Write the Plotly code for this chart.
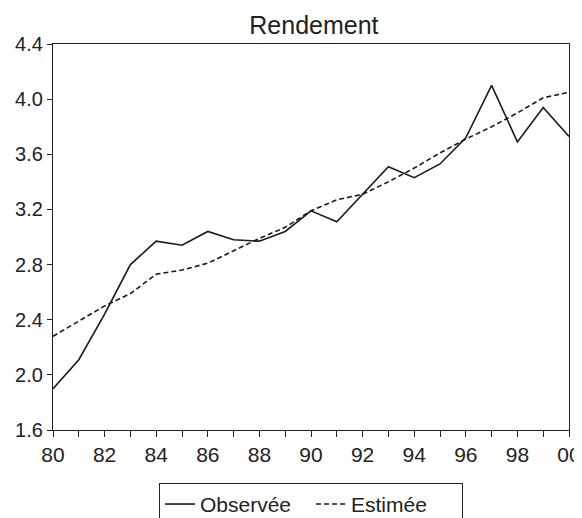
"""Rendement observé vs estimé, 1980-2000."""
import plotly.graph_objects as go

years = list(range(1980, 2001))
observee = [1.90, 2.11, 2.44, 2.80, 2.97, 2.94, 3.04, 2.98, 2.97, 3.04, 3.19, 3.11,
            3.31, 3.51, 3.43, 3.53, 3.72, 4.10, 3.69, 3.94, 3.73]
estimee = [2.28, 2.39, 2.50, 2.59, 2.73, 2.76, 2.81, 2.90, 2.99, 3.07, 3.19, 3.27,
           3.31, 3.40, 3.50, 3.61, 3.71, 3.80, 3.90, 4.01, 4.05]
x_tickvals = list(range(1980, 2001, 2))
x_ticktext = ["80", "82", "84", "86", "88", "90", "92", "94", "96", "98", "00"]
y_tickvals = [1.6, 2.0, 2.4, 2.8, 3.2, 3.6, 4.0, 4.4]

FONT = "Liberation Sans, Arial, sans-serif"

fig = go.Figure()
fig.add_trace(go.Scatter(x=years, y=observee, mode="lines", name="Observée",
                         line=dict(color="#1a1a1a", width=1.6)))
fig.add_trace(go.Scatter(x=years, y=estimee, mode="lines", name="Estimée",
                         line=dict(color="#1a1a1a", width=1.6, dash="5px,3px")))

# the page body adds an 8px margin, so the figure is a bit smaller than the window
fig.update_layout(
    width=574, height=510,
    margin=dict(l=45, r=13, t=36, b=88, autoexpand=False),
    paper_bgcolor="white", plot_bgcolor="white",
    font=dict(family=FONT, size=18, color="#222"),
    title=dict(text="Rendement", x=0.533, xanchor="center", y=0.967, yanchor="middle",
               font=dict(size=25)),
    showlegend=True,
    legend=dict(orientation="h", x=0.5, xanchor="center", y=-0.137, yanchor="top",
                bordercolor="#222", borderwidth=1, font=dict(size=21),
                itemwidth=30, entrywidth=106, tracegroupgap=0),
)
fig.update_xaxes(
    range=[1980, 2000], tickvals=x_tickvals, ticktext=x_ticktext,
    ticks="outside", ticklen=6, tickcolor="#222", showgrid=False, zeroline=False,
    showline=True, linecolor="#222", linewidth=1.3, mirror=True, automargin=False,
    minor=dict(dtick=1, tick0=1980, ticks="outside", ticklen=6, tickcolor="#222"),
    tickfont=dict(size=21),
)
fig.update_yaxes(
    range=[1.6, 4.4], tickvals=y_tickvals, tickformat=".1f",
    ticks="outside", ticklen=5, tickcolor="#222", showgrid=False, zeroline=False,
    showline=True, linecolor="#222", linewidth=1.3, mirror=True, automargin=False,
    tickfont=dict(size=20),
)

fig.write_html("out.html")
